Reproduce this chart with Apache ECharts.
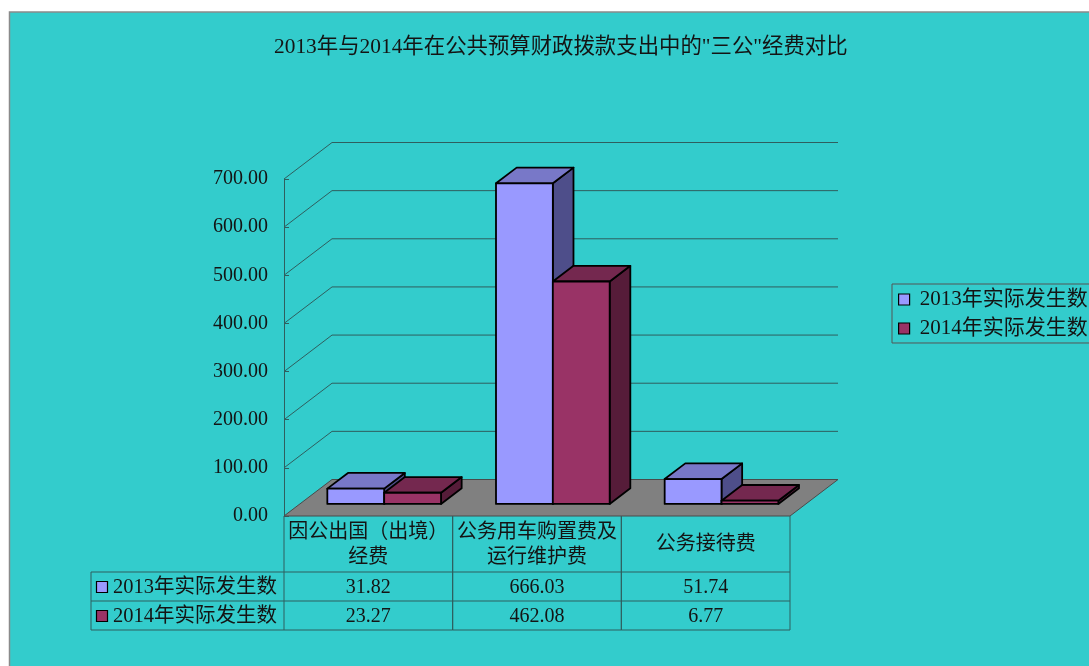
<!DOCTYPE html>
<html>
<head>
<meta charset="utf-8">
<script src="https://cdn.jsdelivr.net/npm/echarts@6/dist/echarts.min.js"></script>
<style>
  html, body { margin: 0; padding: 0; background: #fff; }
  #chart { width: 1089px; height: 666px; }
</style>
</head>
<body>
<div id="chart"></div>
<script>
const chartTitle = '2013年与2014年在公共预算财政拨款支出中的"三公"经费对比';
const categories = ['因公出国（出境）经费', '公务用车购置费及运行维护费', '公务接待费'];
const seriesNames = ['2013年实际发生数', '2014年实际发生数'];
const actual2013 = [31.82, 666.03, 51.74];
const actual2014 = [23.27, 462.08, 6.77];
const yTicks = [0, 100, 200, 300, 400, 500, 600, 700];

const FONT = '"Liberation Serif", "Noto Sans CJK SC", serif';
const TEXT = '#141414';
const GRID_LINE = '#2F5E5E';
// depth of the 3d box in px, bars sit between F0 and F1 of it
const DX = 48, DY = -36.5;
const F0 = 0.33, F1 = 0.76;
const BAR_W = 0.337;
const HEADER_H = 56, ROW_H = 29, LABEL_W = 193;
const faces = [
  { front: '#9999FF', top: '#7878C8', side: '#4E4E8A' },
  { front: '#993366', top: '#74284F', side: '#561C39' }
];

const chart = echarts.init(document.getElementById('chart'));

function bandEdges(api) {
  const band = api.size([1, 0])[0];
  const first = api.coord([0, 0])[0] - band / 2;
  return [first, first + band * categories.length];
}

function line(pts, color) {
  return { type: 'polyline', shape: { points: pts },
    style: { stroke: color || GRID_LINE, lineWidth: 1, fill: null } };
}

function renderWall(params, api) {
  const v = api.value(1);
  const [x0, x1] = bandEdges(api);
  const y = api.coord([0, v])[1];
  if (v === yTicks[0]) {
    return { type: 'polygon',
      shape: { points: [[x0, y], [x1, y], [x1 + DX, y + DY], [x0 + DX, y + DY]] },
      style: { fill: '#808080', stroke: '#4A4A4A', lineWidth: 1 } };
  }
  return line([[x0, y], [x0 + DX, y + DY], [x1 + DX, y + DY]]);
}

function barRenderer(k) {
  return function (params, api) {
    const i = api.value(0), v = api.value(1);
    const band = api.size([1, 0])[0];
    const w = band * BAR_W;
    const base = api.coord([i, 0]);
    const xL = base[0] - w + k * w + DX * F0;
    const xR = xL + w;
    const y0 = base[1] + DY * F0;
    const y1 = api.coord([i, v])[1] + DY * F0;
    const ddx = DX * (F1 - F0), ddy = DY * (F1 - F0);
    const st = (fill) => ({ fill: fill, stroke: '#000', lineWidth: 1.8, lineJoin: 'round' });
    const c = faces[k];
    return { type: 'group', children: [
      { type: 'polygon', shape: { points: [[xR, y1], [xR, y0], [xR + ddx, y0 + ddy], [xR + ddx, y1 + ddy]] }, style: st(c.side) },
      { type: 'polygon', shape: { points: [[xL, y1], [xR, y1], [xR + ddx, y1 + ddy], [xL + ddx, y1 + ddy]] }, style: st(c.top) },
      { type: 'rect', shape: { x: xL, y: y1, width: w, height: y0 - y1 }, style: st(c.front) }
    ] };
  };
}

function txt(s, x, y, extra) {
  return { type: 'text', style: Object.assign({
    text: s, x: x, y: y, fill: TEXT, fontSize: 20, fontFamily: FONT,
    align: 'center', verticalAlign: 'middle' }, extra || {}) };
}

function renderTable(params, api) {
  const i = api.value(0);
  const band = api.size([1, 0])[0];
  const base = api.coord([i, 0]);
  const cx = base[0], xl = cx - band / 2, xr = cx + band / 2;
  const top = base[1];
  const r1 = top + HEADER_H, r2 = r1 + ROW_H, r3 = r2 + ROW_H;
  const kids = [
    line([[xl, top], [xl, r3]]),
    line([[xr, top], [xr, r3]]),
    line([[xl, r1], [xr, r1]]),
    line([[xl, r2], [xr, r2]]),
    line([[xl, r3], [xr, r3]]),
    txt(categories[i], cx, top + HEADER_H / 2 + 1,
      { width: band - 6, overflow: 'break', lineHeight: 25 }),
    txt(actual2013[i].toFixed(2), cx, r1 + ROW_H / 2 + 1),
    txt(actual2014[i].toFixed(2), cx, r2 + ROW_H / 2 + 1)
  ];
  if (i === 0) {
    const lx = xl - LABEL_W;
    kids.push(line([[lx, r1], [lx, r3]]), line([[lx, r1], [xl, r1]]),
      line([[lx, r2], [xl, r2]]), line([[lx, r3], [xl, r3]]));
    seriesNames.forEach(function (name, k) {
      const yy = r1 + ROW_H * k + ROW_H / 2;
      kids.push({ type: 'rect', shape: { x: lx + 5.5, y: yy - 5, width: 11, height: 11 },
        style: { fill: faces[k].front, stroke: '#000', lineWidth: 1.2 } });
      kids.push(txt(name, lx + 22, yy + 1, { align: 'left', fontSize: 20.5 }));
    });
  }
  return { type: 'group', children: kids };
}

const option = {
  backgroundColor: '#fff',
  animation: false,
  graphic: [{
    type: 'rect', z: -10, silent: true,
    shape: { x: 9.5, y: 12, width: 1100, height: 700 },
    style: { fill: '#33CCCC', stroke: '#8A8A8A', lineWidth: 1.5 }
  }],
  title: {
    text: chartTitle, left: 269, top: 32,
    textStyle: { fontSize: 21.4, fontWeight: 'normal', fontFamily: FONT, color: TEXT }
  },
  legend: {
    data: seriesNames, orient: 'vertical', left: 892, top: 284,
    icon: 'rect', itemWidth: 11, itemHeight: 11, itemGap: 8,
    padding: [5, 30, 4, 6],
    borderColor: '#555', borderWidth: 1,
    formatter: ' {name}',
    itemStyle: { borderColor: '#000', borderWidth: 1.2 },
    textStyle: { fontSize: 21, fontFamily: FONT, color: TEXT }
  },
  grid: { left: 284, top: 179, width: 506, height: 337 },
  xAxis: { type: 'category', data: categories, show: false },
  yAxis: {
    type: 'value', min: yTicks[0], max: yTicks[yTicks.length - 1],
    interval: yTicks[1] - yTicks[0],
    axisLine: { show: true, lineStyle: { color: GRID_LINE, width: 1 } },
    axisTick: { show: true, inside: true, length: 5, lineStyle: { color: GRID_LINE } },
    splitLine: { show: false },
    axisLabel: { margin: 16, formatter: (v) => v.toFixed(2),
      fontSize: 20, fontFamily: FONT, color: TEXT }
  },
  series: [
    { type: 'custom', name: 'wall', silent: true, clip: false, z: 1,
      renderItem: renderWall, data: yTicks.map((v) => [0, v]) },
    { type: 'custom', name: seriesNames[0], clip: false, z: 3,
      itemStyle: { color: faces[0].front, borderColor: '#000' },
      renderItem: barRenderer(0), data: actual2013.map((v, i) => [i, v]) },
    { type: 'custom', name: seriesNames[1], clip: false, z: 4,
      itemStyle: { color: faces[1].front, borderColor: '#000' },
      renderItem: barRenderer(1), data: actual2014.map((v, i) => [i, v]) },
    { type: 'custom', name: 'table', silent: true, clip: false, z: 2,
      renderItem: renderTable, data: categories.map((c, i) => [i, 0]) }
  ]
};

chart.setOption(option);
</script>
</body>
</html>
